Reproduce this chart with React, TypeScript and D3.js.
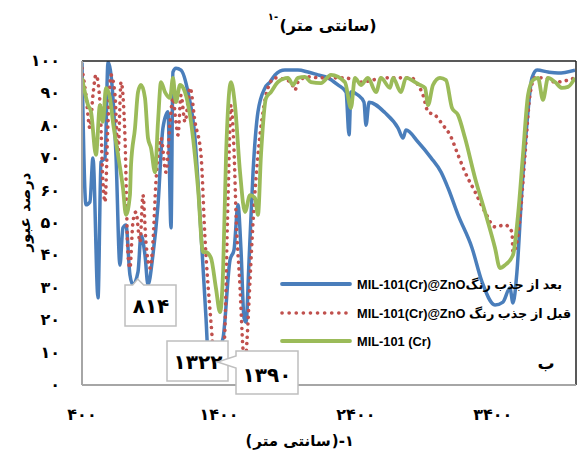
import React, { useLayoutEffect, useRef, useState } from "react";
import * as d3 from "d3";

const xTicks = [400, 1400, 2400, 3400];
const xTickLabels = ["۴۰۰", "۱۴۰۰", "۲۴۰۰", "۳۴۰۰"];
const yTicks = [0, 10, 20, 30, 40, 50, 60, 70, 80, 90, 100];
const yTickLabels = ["۰", "۱۰", "۲۰", "۳۰", "۴۰", "۵۰", "۶۰", "۷۰", "۸۰", "۹۰", "۱۰۰"];

const seriesNames = [
  "بعد از جذب رنگ",
  "قبل از جذب رنگ",
  "MIL-101 (Cr)",
];

const blueWn = [400,429,458,480,517,539,568,590,612,648,677,699,721,750,772,809,831,860,882,918,955,991,1028,1050,1064,1086,1123,1174,1225,1262,1305,1322,1345,1380,1430,1481,1510,1539,1561,1583,1598,1620,1649,1685,1736,1773,1809,1882,1977,2050,2123,2196,2269,2328,2350,2364,2415,2459,2474,2496,2613,2708,2744,2766,2854,2949,3022,3073,3146,3248,3321,3416,3474,3525,3547,3576,3613,3650,3686,3723,3803,3876,4000];
const blueT = [99.5,55.6,56.5,70.1,26.9,68.8,70.1,99.7,95.7,71.0,37.0,48.5,49.4,34.0,30.9,34.9,46.3,40.1,30.9,40.1,55.6,79.3,84.3,48.5,96.6,97.8,97.2,90.4,76.2,51.9,21,9,8,9,14.5,38.6,41.7,55.6,41.7,20.7,19.4,38.6,65.7,84.3,91.7,93.5,95.7,97.2,97.2,96.6,95.7,94.8,92.6,90.4,77.2,90.4,89.5,87.3,80.2,87.3,84.0,79.3,76.2,78.7,75.0,70.1,65.7,60.8,52.5,42.3,31.8,24.7,25.6,29.9,25.3,34.9,60.8,81.2,94.8,97.2,96.6,96.3,97.2];

const redWn = [400,429,458,480,502,531,553,568,590,612,641,663,685,714,736,750,772,794,824,845,867,897,918,940,977,1013,1043,1064,1086,1101,1123,1152,1189,1225,1269,1298,1342,1365,1386,1437,1466,1488,1510,1525,1554,1576,1590,1605,1627,1649,1685,1722,1758,1809,1926,1955,1977,2050,2145,2320,2437,2613,2803,2854,2890,2927,2978,3036,3087,3146,3197,3270,3343,3416,3489,3540,3547,3576,3598,3635,3671,3708,3781,3854,3949,4000];
const redT = [97.8,89.5,79.3,89.5,95.7,87.3,62.7,56.5,81.2,95.7,89.5,71.0,93.5,76.2,40.1,36.1,50.3,53.4,44.1,58.6,44.1,36.1,44.1,62.7,76.2,65.7,81.2,88.6,81.2,77.2,89.5,81.2,91.7,81.2,71.0,45.4,19.4,9,9,12.3,57,86.4,72.5,52.5,30,10.8,5,13.9,32.4,50.3,71.0,84.3,91.7,94.8,93.5,91.0,93.5,95.1,94.8,94.8,93.5,94.8,94.8,92.6,89.5,84.3,83.3,80.2,77.2,71.0,65.7,59.6,53.4,48.8,49.4,47.2,41.0,44.1,51.5,71.0,89.5,94.8,94.8,93.5,94.1,94.8];

const greenWn = [400,444,466,502,531,553,575,604,626,663,699,721,750,758,787,809,831,860,882,904,933,955,977,1006,1043,1064,1086,1116,1152,1196,1247,1284,1305,1342,1378,1408,1430,1452,1488,1517,1554,1590,1627,1663,1685,1707,1744,1780,1831,1904,1941,1977,2028,2072,2145,2218,2320,2364,2393,2437,2488,2547,2583,2649,2671,2729,2766,2832,2868,2905,2927,2963,3014,3058,3102,3146,3197,3270,3343,3416,3452,3489,3547,3584,3620,3657,3693,3730,3766,3803,3854,3905,3949,4000];
const greenT = [94.8,86.4,84.3,71.0,86.4,81.2,91.7,88.6,81.2,71.0,60.8,52.5,58.6,67.9,79.3,90.4,92.6,88.6,76.2,73.1,65.7,81.2,93.5,90.4,88.6,94.8,87.3,92.6,90.4,81.2,60.8,41.0,41.0,39.2,29.9,22.5,34.9,71.0,93.5,86.4,65.7,53.4,58.6,57.7,52.5,71.0,88.6,90.4,93.5,94.8,92.6,94.8,95.1,93.5,93.2,95.7,93.5,85.5,94.8,92.6,94.8,90.4,94.8,91.7,94.8,90.4,94.8,93.5,92.6,91.7,86.4,92.6,94.8,94.1,85.5,83.3,76.2,63.9,53.4,42.3,36.1,37.0,40.1,52.5,71.0,89.5,94.1,94.8,88.0,94.8,93.5,91.7,92.0,94.8];

const annotations = [
  { wn: 814, label: "۸۱۴" },
  { wn: 1322, label: "۱۳۲۲" },
  { wn: 1390, label: "۱۳۹۰" },
];

const unitWords = "سانتی متر";

const W = 577, H = 450;
const PL = 82, PR = 575, PT = 61, PB = 385;

export default function App() {
  const wordsRef = useRef<SVGTextElement>(null);
  const [ww, setWw] = useState(72);
  useLayoutEffect(() => {
    if (wordsRef.current) setWw(wordsRef.current.getComputedTextLength());
  }, []);

  const x = d3.scaleLinear().domain([400, 4000]).range([PL, PR]);
  const y = d3.scaleLinear().domain([0, 100]).range([PB, PT]);
  const line = d3
    .line<[number, number]>()
    .x((d) => x(d[0]))
    .y((d) => y(d[1]))
    .curve(d3.curveMonotoneX);
  const mk = (wn: number[], t: number[]) => wn.map((w, i) => [w, t[i]] as [number, number]);
  const blue = "#4a7ebb", red = "#c0504d", green = "#9bbb59";
  const persian = "'DejaVu Sans', sans-serif";
  const latin = "'Liberation Sans', 'DejaVu Sans', sans-serif";

  const a814 = x(annotations[0].wn);
  const a1390 = x(annotations[2].wn);

  const legendRows = [
    { color: blue, dash: false, yy: 284, latinTxt: "MIL-101(Cr)@ZnO", ar: seriesNames[0], gap: "" },
    { color: red, dash: true, yy: 313, latinTxt: "MIL-101(Cr)@ZnO", ar: seriesNames[1], gap: " " },
    { color: green, dash: false, yy: 341, latinTxt: seriesNames[2], ar: "", gap: "" },
  ];

  const cx = 292;
  const by = 446;

  return (
    <svg width={W} height={H} style={{ position: "absolute", left: 0, top: 0, background: "#fff" }}>
      <defs>
        <clipPath id="plotclip">
          <rect x={PL} y={PT} width={PR - PL} height={PB - PT} />
        </clipPath>
      </defs>
      <rect x={0} y={0} width={W} height={H} fill="#fff" />
      {/* title */}
      <text x={328} y={31} fontFamily={persian} fontWeight="bold" fontSize={16} textAnchor="middle" direction="rtl">
        (سانتی متر)
      </text>
      <text x={273} y={20} fontFamily={persian} fontWeight="bold" fontSize={10} textAnchor="middle" direction="ltr">
        ۱-
      </text>

      {/* series */}
      <g clipPath="url(#plotclip)" fill="none" strokeLinejoin="round">
        <path d={line(mk(blueWn, blueT)) || ""} stroke={blue} strokeWidth={3.5} />
        <path d={line(mk(redWn, redT)) || ""} stroke={red} strokeWidth={3.6} strokeDasharray="0.1 6.5" strokeLinecap="round" />
        <path d={line(mk(greenWn, greenT)) || ""} stroke={green} strokeWidth={3.8} />
      </g>

      {/* frame */}
      <line x1={PL} x2={PR + 1} y1={PT} y2={PT} stroke="#222" strokeWidth={1.5} />
      <line x1={PR + 1} x2={PR + 1} y1={PT} y2={PB} stroke="#222" strokeWidth={1.5} />
      <line x1={PL} x2={PL} y1={PT} y2={PB} stroke="#a6a6a6" strokeWidth={2} />
      <line x1={PL} x2={PR + 1} y1={PB} y2={PB} stroke="#a6a6a6" strokeWidth={2} />

      {/* y ticks */}
      {yTicks.map((v, i) => (
        <text key={v} x={60} y={y(v) + 5} fontFamily={persian} fontWeight="bold" fontSize={16} textAnchor="end" direction="ltr">
          {yTickLabels[i]}
        </text>
      ))}
      {/* x ticks */}
      {xTicks.map((v, i) => (
        <text key={v} x={x(v)} y={420} fontFamily={persian} fontWeight="bold" fontSize={16} textAnchor="middle" direction="ltr">
          {xTickLabels[i]}
        </text>
      ))}
      {/* x axis title: ( words ) -1 */}
      <text x={cx - ww / 2 - 1} y={by} fontFamily={persian} fontWeight="bold" fontSize={15} textAnchor="end" direction="ltr">(</text>
      <text ref={wordsRef} x={cx} y={by} fontFamily={persian} fontWeight="bold" fontSize={15} textAnchor="middle" direction="rtl">
        {unitWords}
      </text>
      <text x={cx + ww / 2 + 1} y={by} fontFamily={persian} fontWeight="bold" fontSize={15} textAnchor="start" direction="ltr">)</text>
      <text x={cx + ww / 2 + 8} y={by} fontFamily={persian} fontWeight="bold" fontSize={15} textAnchor="start" direction="ltr">-</text>
      <text x={cx + ww / 2 + 14} y={by} fontFamily={persian} fontWeight="bold" fontSize={15} textAnchor="start" direction="ltr">۱</text>

      <text transform="translate(30,212) rotate(-90)" fontFamily={persian} fontWeight="bold" fontSize={15} textAnchor="middle" direction="rtl">
        درصد عبور
      </text>

      {/* legend */}
      {legendRows.map((r, i) => (
        <g key={i}>
          <line x1={282} x2={350} y1={r.yy} y2={r.yy} stroke={r.color} strokeWidth={r.dash ? 3.6 : 3.8}
            strokeDasharray={r.dash ? "0.1 7" : undefined} strokeLinecap="round" />
          <text x={357} y={r.yy + 5} fontFamily={latin} fontWeight="bold" fontSize={12.8} direction="ltr">
            {r.latinTxt + r.gap + r.ar}
          </text>
        </g>
      ))}
      <text x={546} y={369} fontFamily={persian} fontWeight="bold" fontSize={17} textAnchor="middle">ب</text>

      {/* callouts */}
      <path
        d={`M125,285 L${a814 - 6},285 L${a814 - 1},279 L${a814 + 5},285 L176,285 L176,326 L125,326 Z`}
        fill="#fff" stroke="#bfbfbf" strokeWidth={1.5}
      />
      <text x={151} y={313} fontFamily={persian} fontWeight="bold" fontSize={20} textAnchor="middle" direction="ltr">
        {annotations[0].label}
      </text>
      <rect x={167} y={341} width={61} height={40} fill="#fff" stroke="#bfbfbf" strokeWidth={1.5} />
      <text x={198} y={369} fontFamily={persian} fontWeight="bold" fontSize={20} textAnchor="middle" direction="ltr">
        {annotations[1].label}
      </text>
      <path
        d={`M236,351 L298,351 L298,394 L236,394 L236,368 L${a1390},362 L236,356 Z`}
        fill="#fff" stroke="#bfbfbf" strokeWidth={1.5}
      />
      <text x={267} y={382} fontFamily={persian} fontWeight="bold" fontSize={20} textAnchor="middle" direction="ltr">
        {annotations[2].label}
      </text>
    </svg>
  );
}
